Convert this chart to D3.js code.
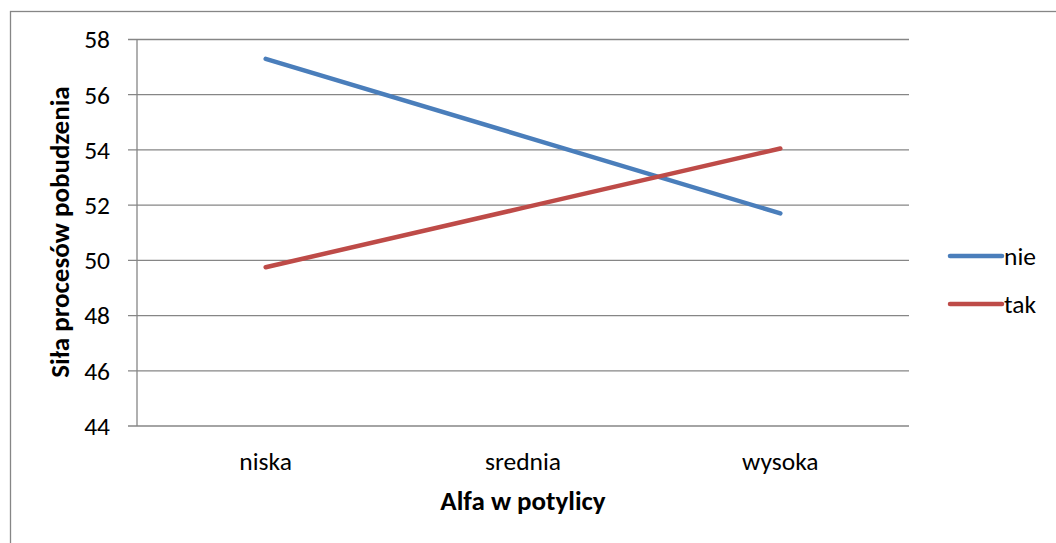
<!DOCTYPE html>
<html>
<head>
<meta charset="utf-8">
<script src="https://cdn.jsdelivr.net/npm/d3@7"></script>
<style>
  body { margin: 0; background: #fff; }
  svg { display: block; font-family: Carlito, Calibri, Lato, "Open Sans", sans-serif; }
</style>
</head>
<body>
<script>
// data
var categories = ["niska", "srednia", "wysoka"];
var nieValues = [57.3, 54.5, 51.7];
var takValues = [49.75, 51.9, 54.05];
var yTicks = [44, 46, 48, 50, 52, 54, 56, 58];
var seriesNames = ["nie", "tak"];
var seriesColors = ["#4a7ebb", "#be4b48"];

var width = 1056, height = 543;
var plot = { left: 137, right: 909, top: 39.5, bottom: 426 };

var svg = d3.select("body").append("svg")
  .attr("width", width)
  .attr("height", height);

// chart frame (runs off the right and bottom edges)
svg.append("rect")
  .attr("x", 10.5).attr("y", 11.5)
  .attr("width", 1100).attr("height", 600)
  .attr("fill", "none")
  .attr("stroke", "#868686")
  .attr("stroke-width", 1.3);

var x = d3.scaleBand().domain(categories).range([plot.left, plot.right]);
var y = d3.scaleLinear().domain([44, 58]).range([plot.bottom, plot.top]);

// gridlines
svg.append("g")
  .selectAll("line")
  .data(yTicks)
  .enter()
  .append("line")
  .attr("x1", plot.left - 9)
  .attr("x2", plot.right)
  .attr("y1", function (d) { return y(d); })
  .attr("y2", function (d) { return y(d); })
  .attr("stroke", "#868686")
  .attr("stroke-width", 1.3);

// y axis line
svg.append("line")
  .attr("x1", plot.left).attr("x2", plot.left)
  .attr("y1", plot.top).attr("y2", plot.bottom)
  .attr("stroke", "#868686")
  .attr("stroke-width", 1.3);

// y tick labels
svg.append("g")
  .selectAll("text")
  .data(yTicks)
  .enter()
  .append("text")
  .attr("x", 110)
  .attr("y", function (d) { return y(d); })
  .attr("dy", "0.35em")
  .attr("text-anchor", "end")
  .style("font-size", "25.5px")
  .attr("fill", "#000")
  .text(function (d) { return d; });

// x tick labels
svg.append("g")
  .selectAll("text")
  .data(categories)
  .enter()
  .append("text")
  .attr("x", function (d) { return x(d) + x.bandwidth() / 2; })
  .attr("y", 470)
  .attr("text-anchor", "middle")
  .style("font-size", "25.5px")
  .text(function (d) { return d; });

// axis titles
svg.append("text")
  .attr("x", (plot.left + plot.right) / 2)
  .attr("y", 510)
  .attr("text-anchor", "middle")
  .style("font-size", "27px")
  .style("font-weight", "700")
  .text("Alfa w potylicy");

svg.append("text")
  .attr("transform", "translate(69,232) rotate(-90)")
  .attr("text-anchor", "middle")
  .style("font-size", "27px")
  .style("font-weight", "700")
  .text("Siła procesów pobudzenia");

// series lines
var line = d3.line()
  .x(function (d, i) { return x(categories[i]) + x.bandwidth() / 2; })
  .y(function (d) { return y(d); });

var series = [nieValues, takValues];
svg.append("g")
  .selectAll("path")
  .data(series)
  .enter()
  .append("path")
  .attr("d", line)
  .attr("fill", "none")
  .attr("stroke", function (d, i) { return seriesColors[i]; })
  .attr("stroke-width", 4.5)
  .attr("stroke-linecap", "round")
  .attr("stroke-linejoin", "round");

// legend
var legend = svg.append("g")
  .selectAll("g")
  .data(seriesNames)
  .enter()
  .append("g")
  .attr("transform", function (d, i) { return "translate(0," + (256 + i * 48) + ")"; });

legend.append("line")
  .attr("x1", 950).attr("x2", 1002)
  .attr("stroke", function (d, i) { return seriesColors[i]; })
  .attr("stroke-width", 4.5)
  .attr("stroke-linecap", "round");

legend.append("text")
  .attr("x", 1004)
  .attr("dy", "0.35em")
  .style("font-size", "25.5px")
  .text(function (d) { return d; });
</script>
</body>
</html>
